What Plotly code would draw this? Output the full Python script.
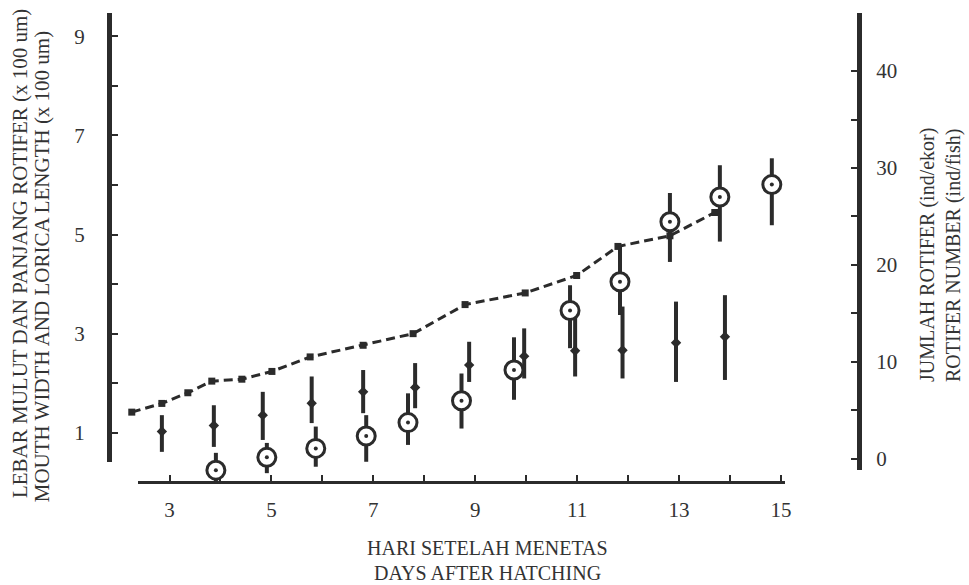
import plotly.graph_objects as go

# ---- data ----
# Rotifer number (ind/fish), dashed line, right axis
num_day = [2.26, 2.85, 3.36, 3.83, 4.42, 5.01, 5.76, 6.80, 7.78, 8.80, 9.98, 10.99, 11.80, 12.82, 13.70]
num_val = [4.8, 5.7, 6.8, 8.0, 8.2, 9.0, 10.5, 11.7, 12.9, 15.9, 17.1, 18.9, 21.9, 23.0, 25.4]

# Lorica length (x 100 um), small filled markers, left axis
len_day = [2.85, 3.87, 4.83, 5.79, 6.80, 7.82, 8.88, 9.96, 10.96, 11.89, 12.94, 13.90]
len_val = [1.03, 1.15, 1.36, 1.60, 1.83, 1.92, 2.37, 2.55, 2.66, 2.67, 2.82, 2.94]
len_hi = [1.36, 1.56, 1.83, 2.14, 2.27, 2.41, 2.84, 3.11, 3.32, 3.55, 3.65, 3.78]
len_lo = [0.62, 0.72, 0.86, 1.20, 1.40, 1.50, 2.03, 2.10, 2.14, 2.10, 2.03, 2.07]

# Mouth width (x 100 um), open circles, left axis
mw_day = [3.91, 4.91, 5.87, 6.86, 7.68, 8.73, 9.76, 10.86, 11.84, 12.82, 13.80, 14.82]
mw_val = [0.25, 0.51, 0.69, 0.94, 1.21, 1.65, 2.27, 3.47, 4.05, 5.26, 5.76, 6.01]
mw_hi = [0.60, 0.80, 1.13, 1.36, 1.80, 2.20, 2.93, 3.98, 4.76, 5.84, 6.40, 6.54]
mw_lo = [0.02, 0.19, 0.32, 0.42, 0.76, 1.09, 1.67, 2.71, 3.38, 4.45, 4.86, 5.19]

x_ticks = list(range(3, 16))
x_labels = [str(d) if d % 2 == 1 else "" for d in x_ticks]
yl_ticks = list(range(1, 10))
yl_labels = [str(v) if v % 2 == 1 else "" for v in yl_ticks]
yr_ticks = list(range(0, 45, 5))
yr_labels = [str(v) if v % 10 == 0 else "" for v in yr_ticks]

INK = "#2b2b2b"
TXT = "#333333"
FONT = "Liberation Serif"

fig = go.Figure()

# dashed rotifer number line (on a hidden wider x axis with the same scale)
fig.add_trace(go.Scatter(
    x=num_day, y=num_val, xaxis="x2", yaxis="y2", mode="lines+markers",
    line=dict(color=INK, width=3, dash="9px,5px"),
    marker=dict(symbol="square", size=7, color=INK),
    cliponaxis=False, showlegend=False, hoverinfo="skip"))

# lorica length with error bars
fig.add_trace(go.Scatter(
    x=len_day, y=len_val, xaxis="x", yaxis="y", mode="markers",
    marker=dict(symbol="diamond", size=8, color=INK),
    error_y=dict(type="data", symmetric=False,
                 array=[h - v for h, v in zip(len_hi, len_val)],
                 arrayminus=[v - l for v, l in zip(len_val, len_lo)],
                 color=INK, thickness=4, width=0),
    cliponaxis=False, showlegend=False, hoverinfo="skip"))

# mouth width with error bars (open circle with centre dot), hidden taller y axis, same scale
fig.add_trace(go.Scatter(
    x=mw_day, y=mw_val, xaxis="x", yaxis="y3", mode="markers",
    marker=dict(symbol="circle", size=18, color="white",
                line=dict(color=INK, width=3)),
    error_y=dict(type="data", symmetric=False,
                 array=[h - v for h, v in zip(mw_hi, mw_val)],
                 arrayminus=[v - l for v, l in zip(mw_val, mw_lo)],
                 color=INK, thickness=4, width=0),
    cliponaxis=False, showlegend=False, hoverinfo="skip"))
fig.add_trace(go.Scatter(
    x=mw_day, y=mw_val, xaxis="x", yaxis="y3", mode="markers",
    marker=dict(symbol="circle", size=4, color=INK),
    cliponaxis=False, showlegend=False, hoverinfo="skip"))

tickfont = dict(family=FONT, size=21, color=TXT)
titlefont = dict(family=FONT, size=20, color=TXT)
lefttitlefont = dict(family=FONT, size=21, color=TXT)

fig.update_layout(
    width=969, height=585,
    margin=dict(l=109, r=110, t=13, b=103),
    paper_bgcolor="white", plot_bgcolor="rgba(0,0,0,0)",
    font=dict(family=FONT, color=TXT),
    hovermode=False,
    xaxis=dict(domain=[0.0387, 0.9013], range=[2.382, 15.078],
               anchor="free", position=0,
               showline=True, linecolor=INK, linewidth=3,
               ticks="inside", ticklen=6, tickwidth=2, tickcolor=INK,
               tickvals=x_ticks, ticktext=x_labels, tickfont=tickfont,
               ticklabelstandoff=8,
               showgrid=False, zeroline=False),
    xaxis2=dict(domain=[0, 1], range=[1.813, 16.53], anchor="free", position=0,
                visible=False, showgrid=False, zeroline=False),
    yaxis=dict(domain=[0.0426, 1], range=[0.415, 9.47],
               anchor="free", position=0, side="left",
               showline=True, linecolor=INK, linewidth=5,
               ticks="inside", ticklen=6, tickwidth=2, tickcolor=INK,
               tickvals=yl_ticks, ticktext=yl_labels, tickfont=tickfont,
               ticklabelstandoff=18,
               showgrid=False, zeroline=False),
    yaxis3=dict(domain=[0, 1], range=[0.012, 9.47], anchor="free", position=0,
                visible=False, showgrid=False, zeroline=False),
    yaxis2=dict(domain=[0.0256, 1], range=[-1.17, 45.99],
                anchor="free", position=1, side="right",
                showline=True, linecolor=INK, linewidth=5,
                ticks="inside", ticklen=6, tickwidth=2, tickcolor=INK,
                tickvals=yr_ticks, ticktext=yr_labels, tickfont=tickfont,
                ticklabelstandoff=10,
                showgrid=False, zeroline=False),
    annotations=[
        dict(text="LEBAR MULUT DAN PANJANG ROTIFER (x 100 um)",
             xref="paper", yref="paper", x=-0.1187, y=0.488, textangle=-90,
             showarrow=False, xanchor="center", yanchor="middle", font=lefttitlefont),
        dict(text="MOUTH WIDTH AND LORICA LENGTH (x 100 um)",
             xref="paper", yref="paper", x=-0.0893, y=0.460, textangle=-90,
             showarrow=False, xanchor="center", yanchor="middle", font=lefttitlefont),
        dict(text="JUMLAH ROTIFER (ind/ekor)",
             xref="paper", yref="paper", x=1.0907, y=0.484, textangle=-90,
             showarrow=False, xanchor="center", yanchor="middle", font=titlefont),
        dict(text="ROTIFER NUMBER (ind/fish)",
             xref="paper", yref="paper", x=1.1253, y=0.484, textangle=-90,
             showarrow=False, xanchor="center", yanchor="middle", font=titlefont),
        dict(text="HARI SETELAH MENETAS",
             xref="paper", yref="paper", x=0.5053, y=-0.1407,
             showarrow=False, xanchor="center", yanchor="middle", font=titlefont),
        dict(text="DAYS AFTER HATCHING",
             xref="paper", yref="paper", x=0.5053, y=-0.194,
             showarrow=False, xanchor="center", yanchor="middle", font=titlefont),
    ],
)

fig.write_html("out.html",
               config={"displayModeBar": False, "staticPlot": True},
               post_script="document.body.style.margin='0px';document.body.style.overflow='hidden';")
